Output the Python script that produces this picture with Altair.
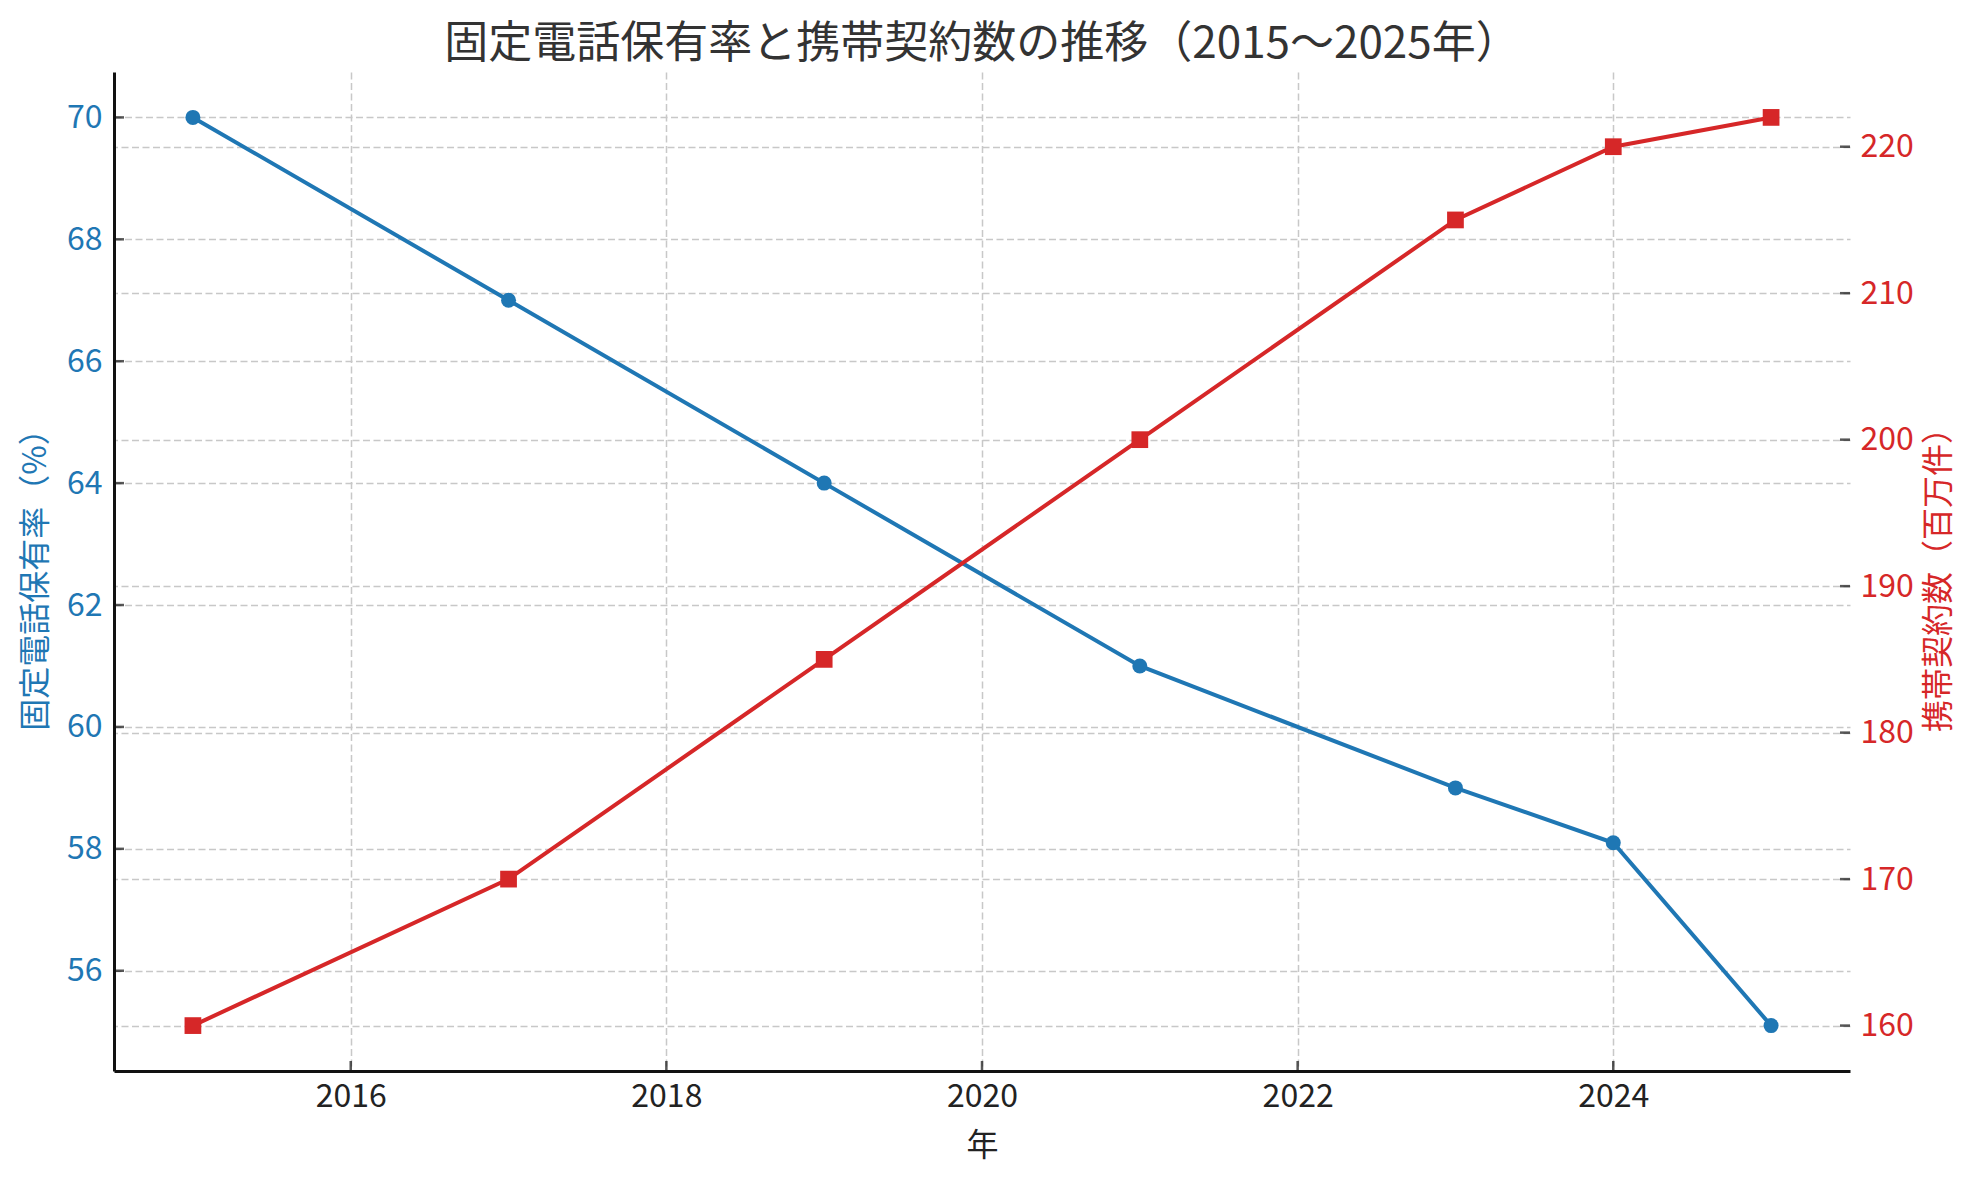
import pandas as pd
import altair as alt

# data
years = [2015, 2017, 2019, 2021, 2023, 2024, 2025]
landline_pct = [70, 67, 64, 61, 59, 58.1, 55.1]
mobile_contracts = [160, 170, 185, 200, 215, 220, 222]

x_ticks = [2016, 2018, 2020, 2022, 2024]
left_ticks = [56, 58, 60, 62, 64, 66, 68, 70]
right_ticks = [160, 170, 180, 190, 200, 210, 220]

BLUE = "#1f77b4"
RED = "#d62728"
FONT = "Noto Sans CJK JP"
W, H = 1736, 999

df = pd.DataFrame({"year": years, "landline": landline_pct, "mobile": mobile_contracts})

x_scale = alt.Scale(domain=[2014.5, 2025.5], nice=False, zero=False)
yl_scale = alt.Scale(domain=[54.355, 70.745], nice=False, zero=False)
yr_scale = alt.Scale(domain=[156.9, 225.1], nice=False, zero=False)

grid_style = dict(grid=True, gridColor="#c8c8c8", gridDash=[7, 3.5], gridWidth=1.5)

x_axis = alt.Axis(
    values=x_ticks, format="d", title="年", ticks=False, labelPadding=10,
    labelColor="#222222", titleColor="#222222", titleFontWeight="normal",
    domain=True, domainColor="#111111", domainWidth=3,
    titleX=W / 2, titleY=74, titleBaseline="middle", **grid_style,
)
yl_axis = alt.Axis(
    values=left_ticks, title="固定電話保有率（%）", ticks=False, labelPadding=12,
    labelColor=BLUE, titleColor=BLUE, titleFontWeight="normal",
    domain=True, domainColor="#111111", domainWidth=3,
    titleAngle=270, titleX=-79, titleY=H / 2, titleAlign="center", titleBaseline="middle",
    **grid_style,
)
yr_axis = alt.Axis(
    orient="right", values=right_ticks, title="携帯契約数（百万件）", ticks=False,
    labelPadding=10, labelColor=RED, titleColor=RED, titleFontWeight="normal",
    domain=False,
    titleAngle=270, titleX=88, titleY=H / 2, titleAlign="center", titleBaseline="middle",
    **grid_style,
)

X = alt.X("year:Q", scale=x_scale, axis=x_axis)

# left axis: fixed-line share
base_left = alt.Chart(df).encode(x=X, y=alt.Y("landline:Q", scale=yl_scale, axis=yl_axis))
left_line = base_left.mark_line(color=BLUE, strokeWidth=4)
left_pts = base_left.mark_point(shape="circle", filled=True, size=225, color=BLUE, opacity=1)
left_tick_marks = (
    alt.Chart(pd.DataFrame({"landline": left_ticks}))
    .mark_tick(color="#111111", thickness=2.5, size=10)
    .encode(x=alt.value(5), y=alt.Y("landline:Q", scale=yl_scale, axis=yl_axis))
)
x_tick_marks = (
    alt.Chart(pd.DataFrame({"year": x_ticks}))
    .mark_tick(color="#111111", thickness=2.5, size=10)
    .encode(x=X, y=alt.value(H - 5))
)
left = alt.layer(left_line, left_pts, left_tick_marks, x_tick_marks)

# right axis: mobile contracts
base_right = alt.Chart(df).encode(x=X, y=alt.Y("mobile:Q", scale=yr_scale, axis=yr_axis))
right_line = base_right.mark_line(color=RED, strokeWidth=4)
right_pts = base_right.mark_point(shape="square", filled=True, size=280, color=RED, opacity=1)
right_tick_marks = (
    alt.Chart(pd.DataFrame({"mobile": right_ticks}))
    .mark_tick(color="#111111", thickness=2.5, size=10)
    .encode(x=alt.value(W - 5), y=alt.Y("mobile:Q", scale=yr_scale, axis=yr_axis))
)
right = alt.layer(right_line, right_pts, right_tick_marks)

chart = (
    alt.layer(left, right)
    .resolve_scale(y="independent")
    .properties(
        width=W,
        height=H,
        title=alt.TitleParams(
            "固定電話保有率と携帯契約数の推移（2015〜2025年）",
            fontSize=44, font=FONT, fontWeight="normal", color="#333333",
            anchor="middle", offset=5,
        ),
        autosize=alt.AutoSizeParams(type="none"),
        padding={"left": 106, "top": 64, "right": 121, "bottom": 101},
    )
    .configure(font=FONT)
    .configure_view(stroke=None)
    .configure_axis(labelFont=FONT, titleFont=FONT, labelFontSize=32, titleFontSize=32)
)

chart.save("out.html", embed_options={"renderer": "svg", "actions": False})
